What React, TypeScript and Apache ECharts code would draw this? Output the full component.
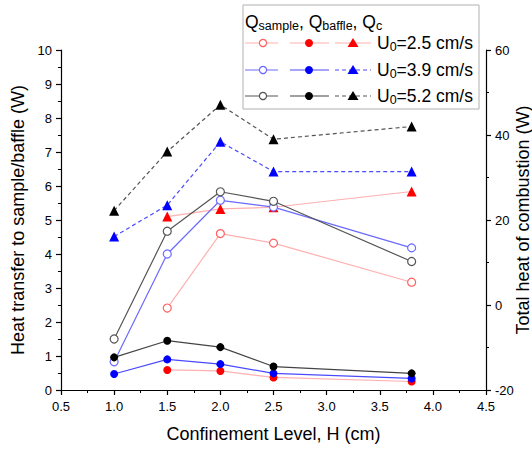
import React, { useEffect, useRef } from "react";
import * as echarts from "echarts";

// Confinement level H (cm)
const H_ALL = [1.0, 1.5, 2.0, 2.5, 3.8];
const H_25 = [1.5, 2.0, 2.5, 3.8];

// U0 = 2.5 cm/s
const qSample25 = [2.41, 4.6, 4.32, 3.17];
const qBaffle25 = [0.59, 0.56, 0.37, 0.25];
const qc25 = [20.8, 22.6, 23.0, 26.7];

// U0 = 3.9 cm/s
const qSample39 = [0.83, 4.0, 5.58, 5.38, 4.18];
const qBaffle39 = [0.47, 0.9, 0.76, 0.49, 0.34];
const qc39 = [16.1, 23.5, 38.4, 31.4, 31.4];

// U0 = 5.2 cm/s
const qSample52 = [1.5, 4.67, 5.83, 5.55, 3.78];
const qBaffle52 = [0.96, 1.45, 1.26, 0.69, 0.49];
const qc52 = [22.2, 36.1, 47.1, 39.0, 42.0];

const legendLabels = ["2.5 cm/s", "3.9 cm/s", "5.2 cm/s"];

const FONT = "'Liberation Sans', Arial, sans-serif";

export default function App() {
  const ref = useRef<HTMLDivElement>(null);
  useEffect(() => {
    document.body.style.margin = "0";
    if (!ref.current) return;
    const chart = echarts.init(ref.current, null, { renderer: "svg" });

    const colors = [
      { openLine: "#ffb0b0", openStroke: "#ff6060", bLine: "#ffb0b0", fill: "#ff0000", cLine: "#ffb0b0", cDash: "solid" },
      { openLine: "#6a6aff", openStroke: "#6a6aff", bLine: "#4a4aff", fill: "#0000ff", cLine: "#4a4aff", cDash: [4, 3] },
      { openLine: "#555555", openStroke: "#555555", bLine: "#444444", fill: "#000000", cLine: "#555555", cDash: [4, 3] },
    ];
    const sets = [
      { x: H_25, s: qSample25, b: qBaffle25, c: qc25 },
      { x: H_ALL, s: qSample39, b: qBaffle39, c: qc39 },
      { x: H_ALL, s: qSample52, b: qBaffle52, c: qc52 },
    ];

    const series: any[] = [];
    sets.forEach((set, i) => {
      const col = colors[i];
      series.push({
        type: "line",
        yAxisIndex: 0,
        data: set.s.map((v, k) => [set.x[k], v]),
        symbol: "circle",
        symbolSize: 8,
        lineStyle: { color: col.openLine, width: 1.2 },
        itemStyle: { color: "#ffffff", borderColor: col.openStroke, borderWidth: 1.2 },
        z: 3,
      });
      series.push({
        type: "line",
        yAxisIndex: 0,
        data: set.b.map((v, k) => [set.x[k], v]),
        symbol: "circle",
        symbolSize: 8,
        lineStyle: { color: col.bLine, width: 1.2 },
        itemStyle: { color: col.fill, borderWidth: 0 },
        z: 3,
      });
      series.push({
        type: "line",
        yAxisIndex: 1,
        data: set.c.map((v, k) => [set.x[k], v]),
        symbol: "triangle",
        symbolSize: 10,
        lineStyle: { color: col.cLine, width: 1.2, type: col.cDash },
        itemStyle: { color: col.fill, borderWidth: 0 },
        z: 3,
      });
    });

    // legend graphic
    const lx0 = 243, ly0 = 5, lw = 236, lh = 104;
    const rowY = [43, 70, 96];
    const richStyles = {
      a: { fontSize: 17.5, fontFamily: FONT, lineHeight: 20, fill: "#000" },
      s: { fontSize: 12.5, fontFamily: FONT, lineHeight: 8, verticalAlign: "bottom", fill: "#000" },
    };
    const graphics: any[] = [
      {
        type: "rect",
        shape: { x: lx0, y: ly0, width: lw, height: lh },
        style: { fill: "#ffffff", stroke: "#b0b0b0", lineWidth: 1 },
        z: 100,
      },
      {
        type: "text",
        x: 245,
        y: 22,
        z: 101,
        style: {
          text: "{a|Q}{s|sample}{a|, Q}{s|baffle}{a|, Q}{s|c}",
          verticalAlign: "middle",
          fill: "#000",
          rich: richStyles,
        },
      },
    ];
    rowY.forEach((y, i) => {
      const col = colors[i];
      graphics.push(
        { type: "line", z: 101, shape: { x1: 245, y1: y, x2: 278, y2: y }, style: { stroke: col.openLine, lineWidth: 1.2 } },
        { type: "circle", z: 102, shape: { cx: 263, cy: y, r: 3.6 }, style: { fill: "#fff", stroke: col.openStroke, lineWidth: 1.2 } },
        { type: "line", z: 101, shape: { x1: 290, y1: y, x2: 329, y2: y }, style: { stroke: col.bLine, lineWidth: 1.2 } },
        { type: "circle", z: 102, shape: { cx: 309, cy: y, r: 4 }, style: { fill: col.fill } },
        {
          type: "line",
          z: 101,
          shape: { x1: 335, y1: y, x2: 371, y2: y },
          style: { stroke: col.cLine, lineWidth: 1.2, lineDash: col.cDash === "solid" ? null : [4, 3] },
        },
        {
          type: "polygon",
          z: 102,
          shape: { points: [[353, y - 5], [347.5, y + 4], [358.5, y + 4]] },
          style: { fill: col.fill },
        },
        {
          type: "text",
          x: 377,
          y: y,
          z: 102,
          style: {
            text: "{a|U}{s|0}{a|=" + legendLabels[i] + "}",
            verticalAlign: "middle",
            fill: "#000",
            rich: richStyles,
          },
        }
      );
    });

    const axisCommon = {
      axisLine: { show: true, onZero: false, lineStyle: { color: "#000", width: 1.2 } },
      axisTick: { show: true, inside: false, length: 5, lineStyle: { color: "#000", width: 1.2 } },
      minorTick: { show: true, splitNumber: 2, length: 3, lineStyle: { color: "#000", width: 1 } },
      splitLine: { show: false },
      axisLabel: { color: "#000", fontSize: 13, fontFamily: FONT },
      nameTextStyle: { color: "#000", fontSize: 18, fontFamily: FONT },
      nameMoveOverlap: false,
    };

    chart.setOption({
      animation: false,
      backgroundColor: "#ffffff",
      textStyle: { fontFamily: FONT },
      grid: { left: 61, right: 46, top: 50, bottom: 59, containLabel: false, outerBoundsMode: "none" },
      xAxis: {
        type: "value",
        min: 0.5,
        max: 4.5,
        interval: 0.5,
        name: "Confinement Level, H (cm)",
        nameLocation: "middle",
        nameGap: 35,
        ...axisCommon,
        axisLabel: { ...axisCommon.axisLabel, margin: 10, formatter: (v: number) => v.toFixed(1) },
      },
      yAxis: [
        {
          type: "value",
          position: "left",
          min: 0,
          max: 10,
          interval: 1,
          name: "Heat transfer to sample/baffle (W)",
          nameLocation: "middle",
          nameGap: 34,
          ...axisCommon,
          axisLabel: { ...axisCommon.axisLabel, margin: 9 },
        },
        {
          type: "value",
          position: "right",
          min: -20,
          max: 60,
          interval: 20,
          name: "Total heat of combustion (W)",
          nameLocation: "middle",
          nameGap: 28,
          ...axisCommon,
          axisLabel: { ...axisCommon.axisLabel, margin: 9 },
        },
      ],
      series,
      graphic: graphics,
    });
    return () => chart.dispose();
  }, []);
  return <div ref={ref} style={{ width: 532, height: 449 }} />;
}
